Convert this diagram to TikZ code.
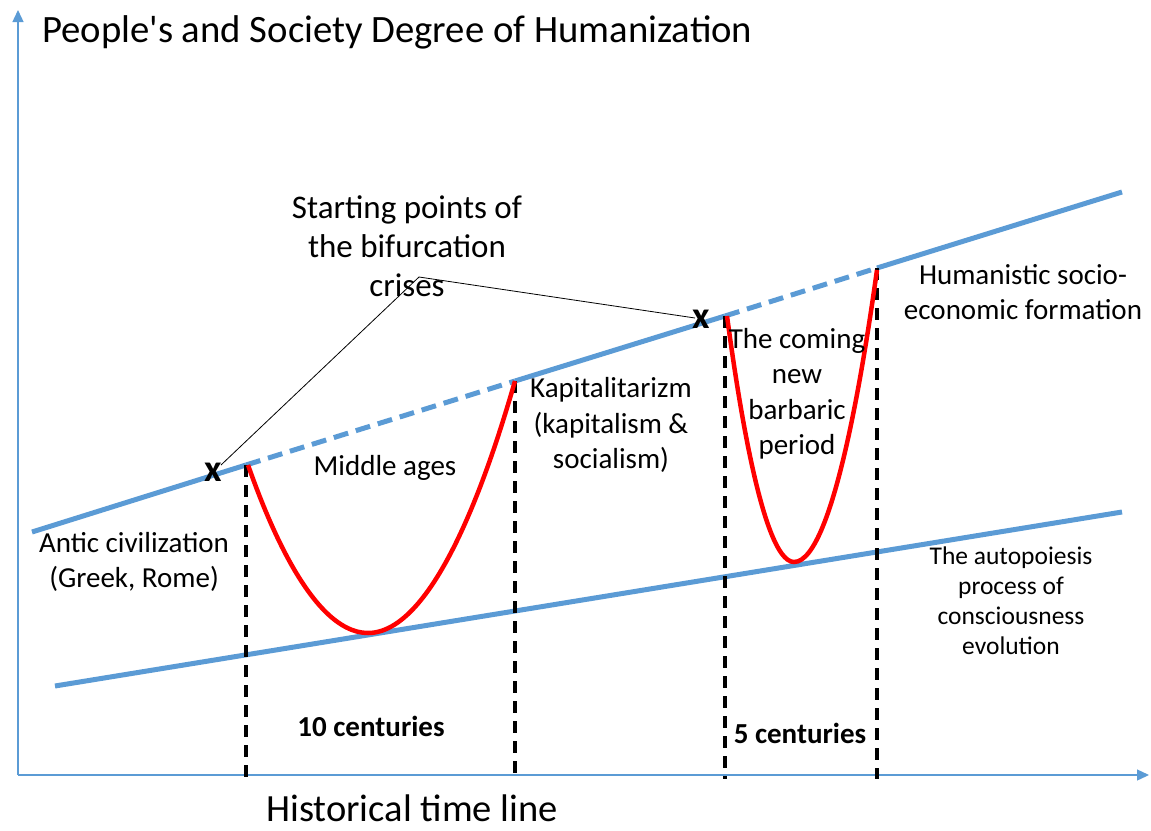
\documentclass[tikz,border=0pt]{standalone}
\usepackage{fontspec}
\setmainfont{Carlito}
\usetikzlibrary{arrows.meta}
\definecolor{axisblue}{RGB}{91,155,213}
\definecolor{crisisred}{RGB}{255,0,0}
\begin{document}
\begin{tikzpicture}[x=1pt,y=-1pt,
  axisline/.style={draw=axisblue, line width=1.3pt, -{Triangle[length=12pt,width=11pt]}},
  trend/.style={draw=axisblue, line width=5pt},
  trenddash/.style={trend, dash pattern=on 15pt off 8pt},
  crisis/.style={draw=crisisred, line width=4.5pt},
  period/.style={draw=black, line width=3.2pt, dash pattern=on 12pt off 8pt},
  leader/.style={draw=black, line width=0.8pt},
  lbl/.style={align=center, inner sep=0pt, font=\fontsize{29}{35.5}\selectfont},
  biglbl/.style={align=center, inner sep=0pt, font=\fontsize{33}{39}\selectfont},
  smalllbl/.style={align=center, inner sep=0pt, font=\fontsize{25.5}{30}\selectfont},
  durlbl/.style={inner sep=0pt, font=\fontsize{29}{32}\selectfont\bfseries},
  cross/.style={inner sep=0pt, font=\fontsize{38}{40}\selectfont\bfseries}
]
\useasboundingbox (0,0) rectangle (1151,830);

% axes
\coordinate (O) at (18,775);
\coordinate (Ytop) at (18,10);
\coordinate (Xend) at (1149,775);
\draw[axisline] (O) -- (Ytop);
\draw[axisline] (O) -- (Xend);

% upper trend line
\coordinate (U0) at (32,532);
\coordinate (U1) at (246,465);
\coordinate (U2) at (515,381);
\coordinate (U3) at (725,316);
\coordinate (U4) at (877,268);
\coordinate (U5) at (1122,192);
\draw[trend] (U0) -- (U1);
\draw[trenddash] (U1) -- (U2);
\draw[trend] (U2) -- (U3);
\draw[trenddash] (U3) -- (U4);
\draw[trend] (U4) -- (U5);

% lower trend line
\coordinate (L0) at (55,686);
\coordinate (L1) at (1122,512);
\draw[trend] (L0) -- (L1);

% period boundaries
\coordinate (B1) at (246,779);
\coordinate (B2) at (515,779);
\coordinate (B3) at (725,779);
\coordinate (B4) at (877,779);
\draw[period] (U1) -- (B1);
\draw[period] (U2) -- (B2);
\draw[period] (U3) -- (B3);
\draw[period] (U4) -- (B4);

% crisis curves
\coordinate (C1s) at (248,465);
\coordinate (C1m) at (368,633);
\coordinate (C1e) at (515,381);
\coordinate (C2s) at (727,316);
\coordinate (C2m) at (794,562);
\coordinate (C2e) at (877,270);
\draw[crisis] (C1s) parabola bend (C1m) (C1e);
\draw[crisis] (C2s) parabola bend (C2m) (C2e);

% crosses
\node[cross] (X1) at (213,472) {x};
\node[cross] (X2) at (701,319) {x};

% labels
\node[biglbl] (start) at (407,246) {Starting points of\\the bifurcation\\crises};
\coordinate (K) at (419,277);
\coordinate (X1a) at (221,465);
\coordinate (X2a) at (695,318);
\draw[leader] (X1a) -- (K) -- (X2a);

\node[font=\fontsize{38.7}{44}\selectfont, anchor=base west, inner sep=0pt] (title) at (42,42) {People\textquotesingle s and Society Degree of Humanization};
\node[font=\fontsize{38.5}{42}\selectfont, anchor=base west, inner sep=0pt] (xlabel) at (266,821) {Historical time line};

\node[lbl] (human) at (1023,292) {Humanistic socio-\\economic formation};
\node[lbl] (kapital) at (611,425) {Kapitalitarizm\\(kapitalism \&\\socialism)};
\node[lbl] (middle) at (385,468) {Middle ages};
\node[lbl] (antic) at (134,562) {Antic civilization\\(Greek, Rome)};
\node[lbl] (barbar) at (797,394) {The coming\\new\\barbaric\\period};
\node[smalllbl] (auto) at (1011,601) {The autopoiesis\\process of\\consciousness\\evolution};

\node[durlbl] (ten) at (371,726) {10 centuries};
\node[durlbl] (five) at (800,733) {5 centuries};
\end{tikzpicture}
\end{document}
